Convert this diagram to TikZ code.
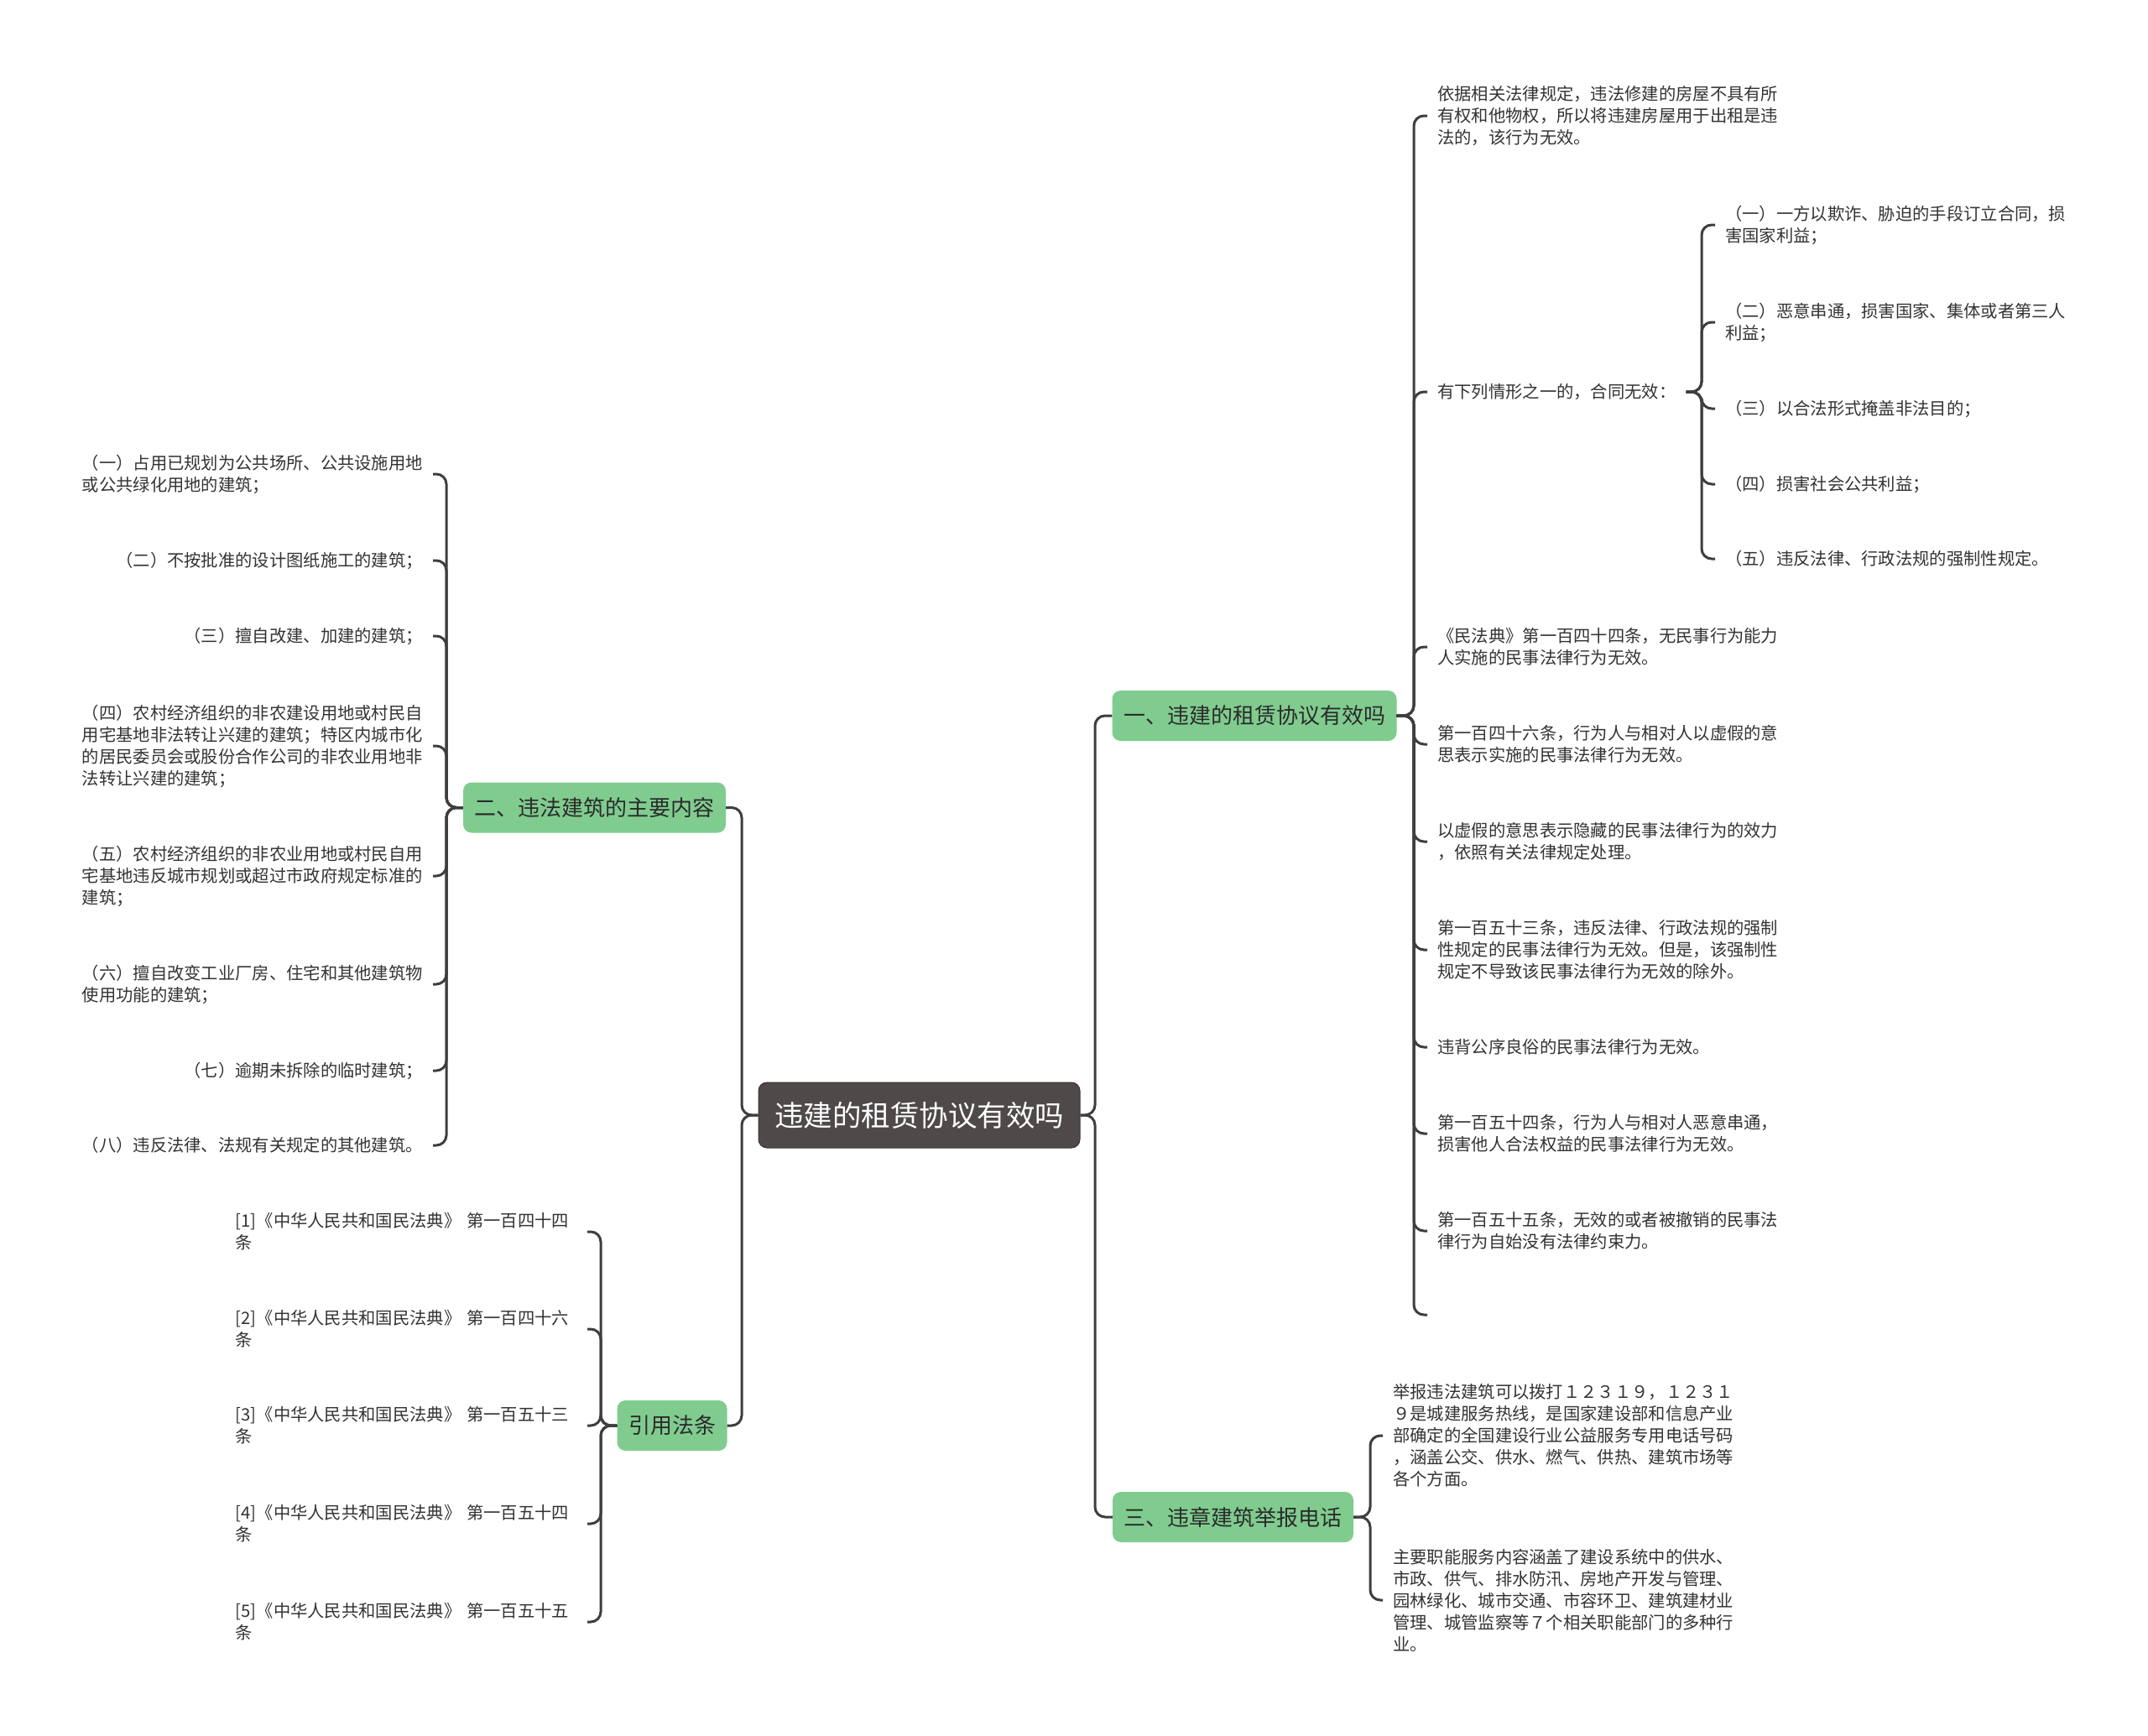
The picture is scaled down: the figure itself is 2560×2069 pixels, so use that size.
\documentclass[tikz,border=0pt]{standalone}
\usepackage{fontspec}
\setmainfont{Noto Sans CJK SC}
\definecolor{linec}{HTML}{3F3D3D}
\definecolor{rootc}{HTML}{4F4949}
\definecolor{rootb}{HTML}{3A3535}
\definecolor{greenc}{HTML}{80CC8F}
\definecolor{topictext}{HTML}{2B2B2B}
\definecolor{leaftext}{HTML}{333333}
\begin{document}
\begin{tikzpicture}[x=1pt,y=-1pt,
  conn/.style={draw=linec, line width=3pt, rounded corners=12pt},
  rootbox/.style={fill=rootc, draw=rootb, line width=1pt, rounded corners=10pt, text=white,
    font=\fontsize{34.5pt}{40pt}\selectfont, minimum width=383pt, minimum height=78pt, inner sep=0pt},
  topic/.style={fill=greenc, rounded corners=10pt, text=topictext,
    font=\fontsize{26pt}{32pt}\selectfont, minimum height=60pt, inner xsep=13.5pt, inner ysep=0pt},
  leaf/.style={text=leaftext, font=\fontsize{20.3pt}{26pt}\selectfont, align=left, inner xsep=12pt, inner ysep=2pt, yshift=-2pt},
]
\fill[white] (0,0) rectangle (2560,2069);
\useasboundingbox (0,0) rectangle (2560,2069);

% root
\node[rootbox] (root) at (1095.5,1329) {违建的租赁协议有效吗};

% main topics
\node[topic] (b1) at (1495,853) {一、违建的租赁协议有效吗};
\node[topic] (b3) at (1469.5,1808) {三、违章建筑举报电话};
\node[topic] (b2) at (708.5,962.5) {二、违法建筑的主要内容};
\node[topic] (b4) at (801,1699) {引用法条};

\draw[conn] (root.east) -- (1305,1329) -- (1305,853) -- (b1.west);
\draw[conn] (root.east) -- (1305,1329) -- (1305,1808) -- (b3.west);
\draw[conn] (root.west) -- (884,1329) -- (884,962.5) -- (b2.east);
\draw[conn] (root.west) -- (884,1329) -- (884,1699) -- (b4.east);

% branch 1 children
\node[leaf,anchor=west] (c1) at (1701,136) {依据相关法律规定，违法修建的房屋不具有所\\有权和他物权，所以将违建房屋用于出租是违\\法的，该行为无效。};
\node[leaf,anchor=west] (c2) at (1701,465) {有下列情形之一的，合同无效：};
\node[leaf,anchor=west] (c3) at (1701,769) {《民法典》第一百四十四条，无民事行为能力\\人实施的民事法律行为无效。};
\node[leaf,anchor=west] (c4) at (1701,885) {第一百四十六条，行为人与相对人以虚假的意\\思表示实施的民事法律行为无效。};
\node[leaf,anchor=west] (c5) at (1701,1001) {以虚假的意思表示隐藏的民事法律行为的效力\\，依照有关法律规定处理。};
\node[leaf,anchor=west] (c6) at (1701,1130) {第一百五十三条，违反法律、行政法规的强制\\性规定的民事法律行为无效。但是，该强制性\\规定不导致该民事法律行为无效的除外。};
\node[leaf,anchor=west] (c7) at (1701,1246) {违背公序良俗的民事法律行为无效。};
\node[leaf,anchor=west] (c8) at (1701,1349) {第一百五十四条，行为人与相对人恶意串通，\\损害他人合法权益的民事法律行为无效。};
\node[leaf,anchor=west] (c9) at (1701,1465) {第一百五十五条，无效的或者被撤销的民事法\\律行为自始没有法律约束力。};
\coordinate (c10) at (1701,1567);

\foreach \n in {c1,c2,c3,c4,c5,c6,c7,c8,c9}{
  \draw[conn] (b1.east) -- (1685,853) -- (1685,0 |- \n.west) -- (\n.west);
}
\draw[conn] (b1.east) -- (1685,853) -- (1685,1567) -- (c10);

% sub children of c2
\node[leaf,anchor=west] (s1) at (2044,266) {（一）一方以欺诈、胁迫的手段订立合同，损\\害国家利益；};
\node[leaf,anchor=west] (s2) at (2044,382) {（二）恶意串通，损害国家、集体或者第三人\\利益；};
\node[leaf,anchor=west] (s3) at (2044,485) {（三）以合法形式掩盖非法目的；};
\node[leaf,anchor=west] (s4) at (2044,575) {（四）损害社会公共利益；};
\node[leaf,anchor=west] (s5) at (2044,664) {（五）违反法律、行政法规的强制性规定。};
\foreach \n in {s1,s2,s3,s4,s5}{
  \draw[conn] (c2.east) -- (2028,0 |- c2.east) -- (2028,0 |- \n.west) -- (\n.west);
}

% branch 3 children
\node[leaf,anchor=west] (d1) at (1648,1709) {举报违法建筑可以拨打１２３１９，１２３１\\９是城建服务热线，是国家建设部和信息产业\\部确定的全国建设行业公益服务专用电话号码\\，涵盖公交、供水、燃气、供热、建筑市场等\\各个方面。};
\node[leaf,anchor=west] (d2) at (1648,1905) {主要职能服务内容涵盖了建设系统中的供水、\\市政、供气、排水防汛、房地产开发与管理、\\园林绿化、城市交通、市容环卫、建筑建材业\\管理、城管监察等７个相关职能部门的多种行\\业。};
\foreach \n in {d1,d2}{
  \draw[conn] (b3.east) -- (1633,1808) -- (1633,0 |- \n.west) -- (\n.west);
}

% branch 2 children
\node[leaf,anchor=east] (e1) at (516,563) {（一）占用已规划为公共场所、公共设施用地\\或公共绿化用地的建筑；};
\node[leaf,anchor=east] (e2) at (516,666) {（二）不按批准的设计图纸施工的建筑；};
\node[leaf,anchor=east] (e3) at (516,756) {（三）擅自改建、加建的建筑；};
\node[leaf,anchor=east] (e4) at (516,887) {（四）农村经济组织的非农建设用地或村民自\\用宅基地非法转让兴建的建筑；特区内城市化\\的居民委员会或股份合作公司的非农业用地非\\法转让兴建的建筑；};
\node[leaf,anchor=east] (e5) at (516,1042) {（五）农村经济组织的非农业用地或村民自用\\宅基地违反城市规划或超过市政府规定标准的\\建筑；};
\node[leaf,anchor=east] (e6) at (516,1171) {（六）擅自改变工业厂房、住宅和其他建筑物\\使用功能的建筑；};
\node[leaf,anchor=east] (e7) at (516,1274) {（七）逾期未拆除的临时建筑；};
\node[leaf,anchor=east] (e8) at (516,1363) {（八）违反法律、法规有关规定的其他建筑。};
\foreach \n in {e1,e2,e3,e4,e5,e6,e7,e8}{
  \draw[conn] (b2.west) -- (532,962.5) -- (532,0 |- \n.east) -- (\n.east);
}

% branch 4 children
\node[leaf,anchor=east,text width=407pt] (f1) at (700,1466) {[1]《中华人民共和国民法典》 第一百四十四\\条};
\node[leaf,anchor=east,text width=407pt] (f2) at (700,1582) {[2]《中华人民共和国民法典》 第一百四十六\\条};
\node[leaf,anchor=east,text width=407pt] (f3) at (700,1697) {[3]《中华人民共和国民法典》 第一百五十三\\条};
\node[leaf,anchor=east,text width=407pt] (f4) at (700,1814) {[4]《中华人民共和国民法典》 第一百五十四\\条};
\node[leaf,anchor=east,text width=407pt] (f5) at (700,1931) {[5]《中华人民共和国民法典》 第一百五十五\\条};
\foreach \n in {f1,f2,f3,f4,f5}{
  \draw[conn] (b4.west) -- (716,1699) -- (716,0 |- \n.east) -- (\n.east);
}
\end{tikzpicture}
\end{document}
